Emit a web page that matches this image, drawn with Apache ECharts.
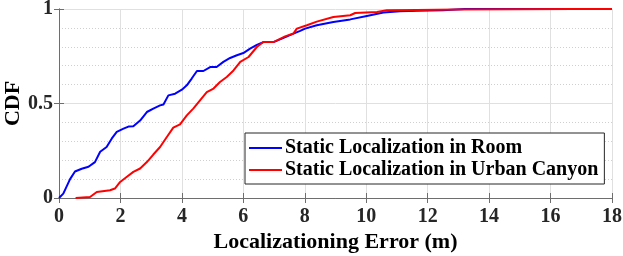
<!DOCTYPE html>
<html><head><meta charset="utf-8">
<script src="https://cdn.jsdelivr.net/npm/echarts@6/dist/echarts.min.js"></script>
<style>html,body{margin:0;padding:0;background:#fff}#c{width:623px;height:256px}</style>
</head><body><div id="c"></div>
<script>
const xTicks = [0,2,4,6,8,10,12,14,16,18];
const yTicks = [0,0.5,1];
const seriesNames = ['Static Localization in Room','Static Localization in Urban Canyon'];
const roomX = [0,0.14,0.36,0.52,0.74,0.96,1.17,1.34,1.55,1.72,1.88,2.1,2.26,2.42,2.64,2.86,3.07,3.29,3.4,3.56,3.78,4.0,4.16,4.32,4.49,4.7,4.92,5.13,5.35,5.57,5.79,6.0,6.22,6.44,6.65,6.98,7.31,7.63,7.85,8.01,8.39,8.93,9.48,10.02,10.56,11.1,11.65,12.5,13.2,18];
const roomY = [0,0.023,0.10,0.14,0.155,0.165,0.19,0.245,0.27,0.315,0.35,0.367,0.378,0.38,0.41,0.455,0.473,0.49,0.495,0.543,0.552,0.573,0.596,0.632,0.672,0.672,0.693,0.693,0.72,0.741,0.755,0.767,0.79,0.81,0.825,0.825,0.847,0.87,0.884,0.896,0.914,0.931,0.945,0.963,0.981,0.988,0.991,0.993,1,1];
const canyonX = [0.54,1.01,1.23,1.66,1.82,1.99,2.2,2.42,2.64,2.86,3.07,3.29,3.51,3.72,3.94,4.16,4.37,4.59,4.81,5.03,5.24,5.46,5.68,5.9,6.17,6.44,6.65,6.98,7.36,7.63,7.74,8.07,8.39,8.93,9.48,9.64,10.35,10.67,11.65,13,16.75,18];
const canyonY = [0,0.005,0.032,0.041,0.05,0.085,0.111,0.138,0.156,0.19,0.23,0.27,0.323,0.372,0.39,0.437,0.473,0.517,0.56,0.579,0.614,0.64,0.675,0.72,0.746,0.799,0.825,0.825,0.855,0.87,0.896,0.914,0.933,0.958,0.967,0.979,0.984,0.993,0.995,0.997,1,1];

const FONT = '"Liberation Serif","Times New Roman",serif';
const pair = (xs, ys) => xs.map((x, i) => [x, ys[i]]);
const axisLineStyle = {color: '#6e6e6e', width: 1};
const chart = echarts.init(document.getElementById('c'), null, {renderer: 'canvas'});
chart.setOption({
  animation: false,
  grid: {left: 59, right: 11, top: 9, bottom: 58, containLabel: false, outerBoundsMode: 'none'},
  legend: {
    left: 245, top: 133, orient: 'vertical',
    data: seriesNames,
    backgroundColor: '#fff', borderColor: '#262626', borderWidth: 1,
    padding: [5, 6, 4, 4], itemGap: 2,
    itemWidth: 33, itemHeight: 2,
    icon: 'rect',
    textStyle: {fontFamily: FONT, fontWeight: 'bold', fontSize: 20, color: '#000', padding: [0, 0, 0, -2]}
  },
  xAxis: [{
    type: 'value', min: 0, max: 18, interval: 2,
    name: 'Localizationing Error (m)', nameLocation: 'middle', nameGap: 33, nameMoveOverlap: false,
    nameTextStyle: {fontFamily: FONT, fontWeight: 'bold', fontSize: 22, color: '#000'},
    axisLine: {show: true, lineStyle: axisLineStyle},
    axisTick: {show: true, inside: true, length: 5, lineStyle: axisLineStyle},
    axisLabel: {fontFamily: FONT, fontWeight: 'bold', fontSize: 20, color: '#262626', margin: 9,
      formatter: v => xTicks.includes(v) ? String(v) : ''},
    splitLine: {show: true, lineStyle: {color: '#e0e0e0', width: 1}}
  }, {
    type: 'value', min: 0, max: 18, interval: 2, position: 'top',
    axisLine: {show: true, lineStyle: axisLineStyle},
    axisTick: {show: true, inside: true, length: 5, lineStyle: axisLineStyle},
    axisLabel: {show: false}, splitLine: {show: false}
  }],
  yAxis: [{
    type: 'value', min: 0, max: 1, interval: 0.5,
    name: 'CDF', nameLocation: 'middle', nameGap: 35, nameMoveOverlap: false,
    nameTextStyle: {fontFamily: FONT, fontWeight: 'bold', fontSize: 22, color: '#000'},
    axisLine: {show: true, lineStyle: axisLineStyle},
    axisTick: {show: true, inside: true, length: 5, lineStyle: axisLineStyle},
    axisLabel: {fontFamily: FONT, fontWeight: 'bold', fontSize: 20, color: '#262626', margin: 6,
      formatter: v => yTicks.includes(v) ? String(v) : ''},
    splitLine: {show: true, lineStyle: {color: '#e0e0e0', width: 1}},
    minorTick: {show: false, splitNumber: 5},
    minorSplitLine: {show: true, lineStyle: {color: '#d0d0d0', width: 1, type: [1, 2]}}
  }, {
    type: 'value', min: 0, max: 1, interval: 0.5, position: 'right',
    axisLine: {show: true, lineStyle: axisLineStyle},
    axisTick: {show: true, inside: true, length: 5, lineStyle: axisLineStyle},
    axisLabel: {show: false}, splitLine: {show: false}
  }],
  series: [{
    name: seriesNames[0], type: 'line', data: pair(roomX, roomY),
    showSymbol: false, symbol: 'none', color: '#0000ff',
    lineStyle: {color: '#0000ff', width: 2}
  }, {
    name: seriesNames[1], type: 'line', data: pair(canyonX, canyonY),
    showSymbol: false, symbol: 'none', color: '#ff0000',
    lineStyle: {color: '#ff0000', width: 2}, z: 3
  }]
});
</script></body></html>
